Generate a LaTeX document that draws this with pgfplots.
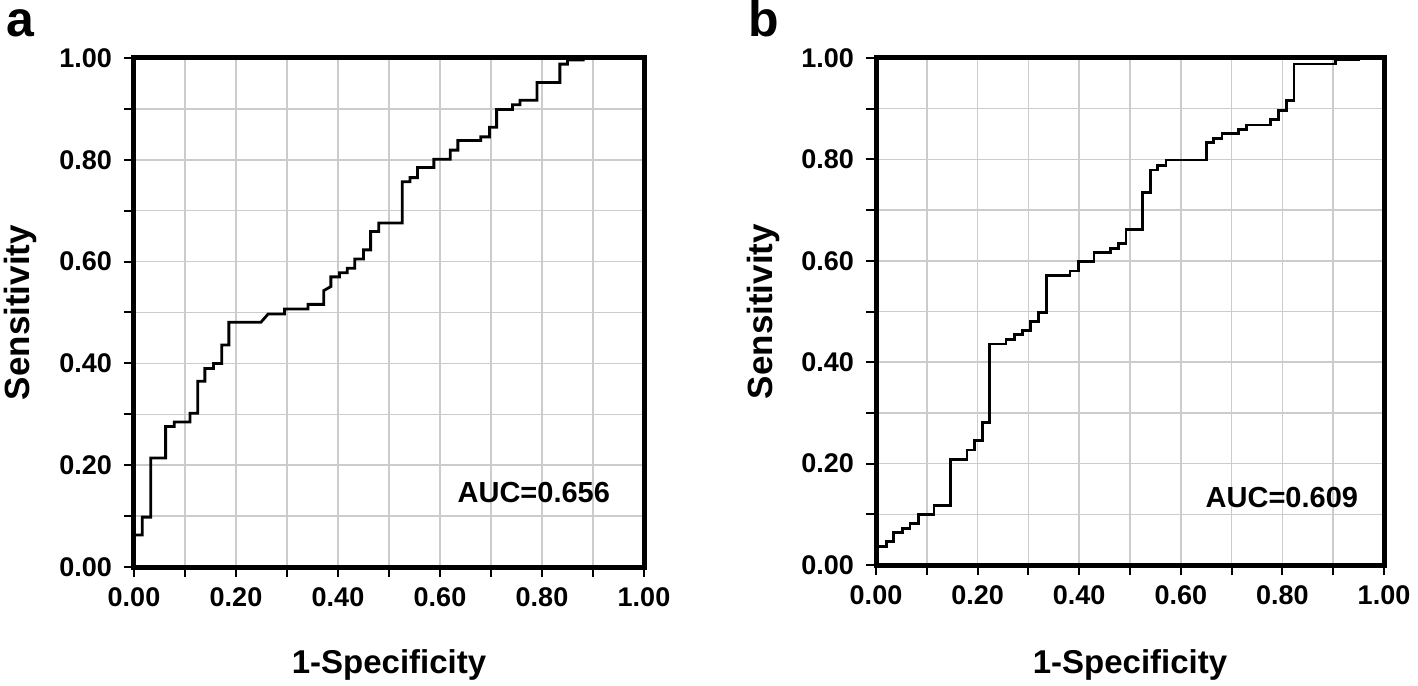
\documentclass[border=0pt]{standalone}
\usepackage{fontspec}
\setmainfont{Liberation Sans}
\usepackage{pgfplots}
\pgfplotsset{compat=1.18}

\pgfplotsset{
  rocstyle/.style={
    scale only axis,
    width=255pt,
    xmin=0, xmax=1, ymin=0, ymax=1,
    xtick={0,0.2,0.4,0.6,0.8,1},
    ytick={0,0.2,0.4,0.6,0.8,1},
    minor xtick={0.1,0.3,0.5,0.7,0.9},
    minor ytick={0.1,0.3,0.5,0.7,0.9},
    xtick pos=bottom,
    ytick pos=left,
    grid=both,
    major grid style={draw=black!20, line width=0.8pt},
    minor grid style={draw=black!20, line width=0.8pt},
    tick align=outside,
    major tick length=5pt,
    minor tick length=5pt,
    every tick/.style={black, line width=1pt},
    axis line style={line width=2.5pt},
    tick label style={font=\bfseries\fontsize{13.5}{13.5}\selectfont},
    yticklabel style={xshift=-2.5pt},
    xticklabel style={yshift=-2pt},
    /pgf/number format/fixed,
    /pgf/number format/fixed zerofill,
    /pgf/number format/precision=2,
    /pgf/number format/assume math mode=true,
    clip=false,
  },
  roccurve/.style={black, line width=1.4pt, line join=miter, no marks},
}

\begin{document}
\begin{tikzpicture}
\useasboundingbox (-67pt,-59pt) rectangle (642pt,283.5pt);

% ---------------- panel a ----------------
\begin{axis}[rocstyle, height=254.5pt, at={(0pt,0pt)}, anchor=south west, name=A]
\addplot[roccurve] coordinates {
(0,0) (0,0.063) (0.016,0.063) (0.016,0.098) (0.033,0.098) (0.033,0.214)
(0.062,0.214) (0.062,0.276) (0.079,0.276) (0.079,0.285) (0.110,0.285)
(0.110,0.302) (0.125,0.302) (0.125,0.365) (0.139,0.365) (0.139,0.390)
(0.156,0.390) (0.156,0.400) (0.172,0.400) (0.172,0.436) (0.186,0.436)
(0.186,0.481) (0.249,0.481) (0.263,0.497) (0.295,0.497) (0.295,0.507)
(0.341,0.507) (0.341,0.516) (0.372,0.516) (0.372,0.543) (0.386,0.551)
(0.386,0.570) (0.403,0.570) (0.403,0.578) (0.418,0.578) (0.418,0.587)
(0.433,0.587) (0.433,0.605) (0.450,0.605) (0.450,0.623) (0.464,0.623)
(0.464,0.659) (0.480,0.659) (0.480,0.676) (0.526,0.676) (0.526,0.757)
(0.541,0.757) (0.541,0.765) (0.556,0.765) (0.556,0.785) (0.588,0.785)
(0.588,0.801) (0.620,0.801) (0.620,0.819) (0.635,0.819) (0.635,0.838)
(0.680,0.838) (0.680,0.845) (0.697,0.845) (0.697,0.864) (0.711,0.864)
(0.711,0.899) (0.742,0.899) (0.742,0.908) (0.757,0.908) (0.757,0.917)
(0.790,0.917) (0.790,0.952) (0.835,0.952) (0.835,0.988) (0.850,0.988)
(0.850,0.996) (0.881,0.996) (0.881,1.0) (1,1)
};
\node[font=\bfseries\fontsize{14.5}{14.5}\selectfont] at (axis cs:0.784,0.147) {AUC=0.656};
\node[font=\bfseries\fontsize{16.5}{16.5}\selectfont, anchor=base] at ([yshift=-53pt]rel axis cs:0.5,0) {1-Specificity};
\node[font=\bfseries\fontsize{17.5}{17.5}\selectfont, anchor=base, rotate=90] at ([xshift=-52pt]rel axis cs:0,0.5) {Sensitivity};
\end{axis}
\node[font=\bfseries\fontsize{25}{25}\selectfont, anchor=base west, inner sep=0pt] at (-64pt,265pt) {a};

% ---------------- panel b ----------------
\begin{axis}[rocstyle, height=253.5pt, width=254pt, at={(371pt,1pt)}, anchor=south west, name=B]
\addplot[roccurve] coordinates {
(0,0) (0,0.036) (0.020,0.036) (0.020,0.046) (0.035,0.046) (0.035,0.064)
(0.052,0.064) (0.052,0.072) (0.067,0.072) (0.067,0.082) (0.083,0.082)
(0.083,0.100) (0.114,0.100) (0.114,0.118) (0.146,0.118) (0.146,0.208)
(0.179,0.208) (0.179,0.227) (0.194,0.227) (0.194,0.245) (0.209,0.245)
(0.209,0.281) (0.223,0.281) (0.223,0.436) (0.256,0.436) (0.256,0.445)
(0.272,0.445) (0.272,0.454) (0.288,0.454) (0.288,0.462) (0.304,0.462)
(0.304,0.480) (0.320,0.480) (0.320,0.498) (0.335,0.498) (0.335,0.571)
(0.382,0.571) (0.382,0.580) (0.398,0.580) (0.398,0.598) (0.429,0.598)
(0.429,0.616) (0.461,0.616) (0.461,0.625) (0.477,0.625) (0.477,0.634)
(0.492,0.634) (0.492,0.662) (0.525,0.662) (0.525,0.734) (0.541,0.734)
(0.541,0.779) (0.554,0.779) (0.554,0.788) (0.571,0.788) (0.571,0.799)
(0.650,0.799) (0.650,0.833) (0.665,0.833) (0.665,0.842) (0.681,0.842)
(0.681,0.851) (0.714,0.851) (0.714,0.859) (0.730,0.859) (0.730,0.868)
(0.776,0.868) (0.776,0.879) (0.792,0.879) (0.792,0.896) (0.808,0.896)
(0.808,0.916) (0.823,0.916) (0.823,0.988) (0.904,0.988) (0.904,0.997)
(0.950,0.997) (0.950,1.0) (1,1)
};
\node[font=\bfseries\fontsize{14.5}{14.5}\selectfont] at (axis cs:0.799,0.134) {AUC=0.609};
\node[font=\bfseries\fontsize{16.5}{16.5}\selectfont, anchor=base] at ([yshift=-54pt]rel axis cs:0.5,0) {1-Specificity};
\node[font=\bfseries\fontsize{17.5}{17.5}\selectfont, anchor=base, rotate=90] at ([xshift=-52pt]rel axis cs:0,0.5) {Sensitivity};
\end{axis}
\node[font=\bfseries\fontsize{25}{25}\selectfont, anchor=base west, inner sep=0pt] at (307pt,265pt) {b};
\end{tikzpicture}
\end{document}
